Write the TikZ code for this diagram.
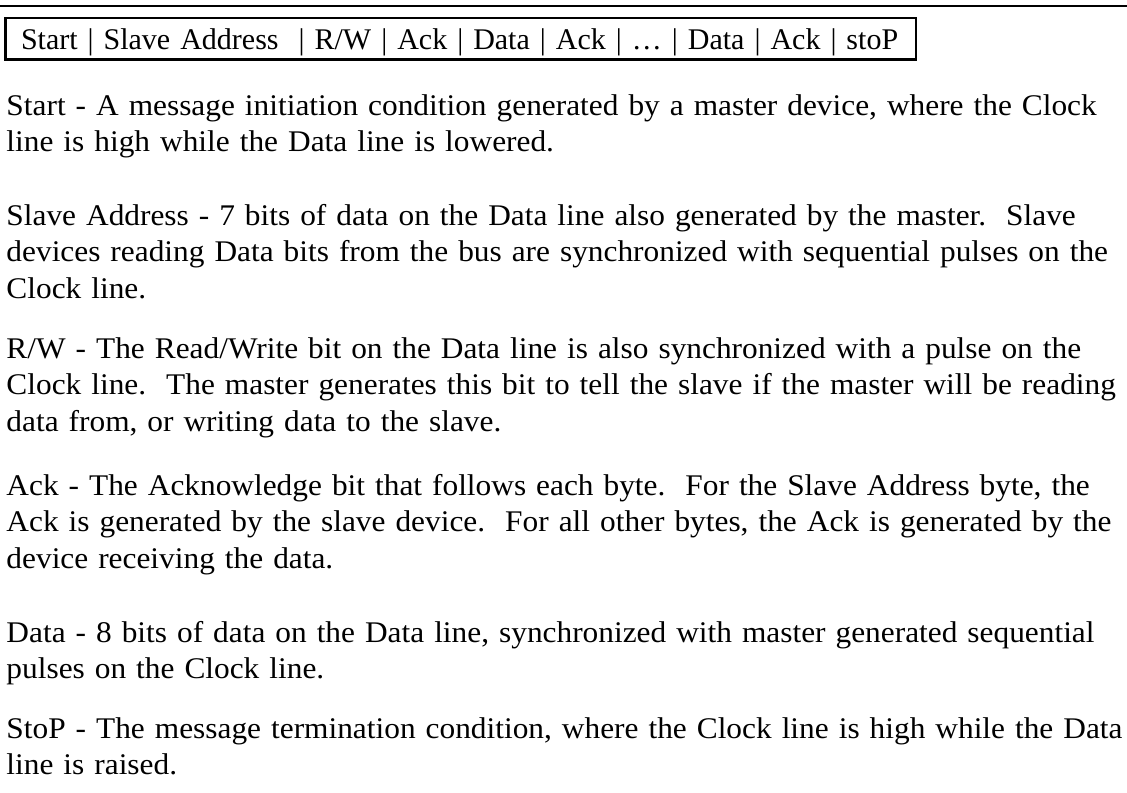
\documentclass[tikz,border=0pt]{standalone}
\usepackage{fontspec}
\setmainfont{Liberation Serif}
\newfontfamily\bodyfont[FakeStretch=1.045]{Liberation Serif}
\usepackage{tikz}

\begin{document}
\begin{tikzpicture}[x=0.4pt, y=-0.4pt,
  para/.style={anchor=base west, inner sep=0pt, text width=450pt, align=left,
    font=\bodyfont\fontsize{12}{14.72}\selectfont},
  fieldtext/.style={para, font=\rmfamily\fontsize{12}{14.72}\selectfont}]
\useasboundingbox (0,0) rectangle (1127,793);

% rule and frame of the message fields
\draw[line width=0.7pt] (0,5.8) -- (1127,5.8);
\draw[line width=1.1pt] (5.5,18) rectangle (916,59.5);
\node [fieldtext] (fields) at (20.5,50) {Start | Slave Address\ \ | R/W | Ack | Data | Ack | … | Data | Ack | stoP};

% field descriptions
\node [para] (start) at (6,115) {Start - A message initiation condition generated by a master device, where the Clock\\
line is high while the Data line is lowered.};
\node [para] (addr) at (6,225) {Slave Address - 7 bits of data on the Data line also generated by the master.\ \ Slave\\
devices reading Data bits from the bus are synchronized with sequential pulses on the\\
Clock line.};
\node [para] (rw) at (6,358) {R/W - The Read/Write bit on the Data line is also synchronized with a pulse on the\\
Clock line.\ \ The master generates this bit to tell the slave if the master will be reading\\
data from, or writing data to the slave.};
\node [para] (ack) at (6,495) {Ack - The Acknowledge bit that follows each byte.\ \ For the Slave Address byte, the\\
Ack is generated by the slave device.\ \ For all other bytes, the Ack is generated by the\\
device receiving the data.};
\node [para] (data) at (6,642) {Data - 8 bits of data on the Data line, synchronized with master generated sequential\\
pulses on the Clock line.};
\node [para] (stop) at (6,738) {StoP - The message termination condition, where the Clock line is high while the Data\\
line is raised.};
\end{tikzpicture}
\end{document}
